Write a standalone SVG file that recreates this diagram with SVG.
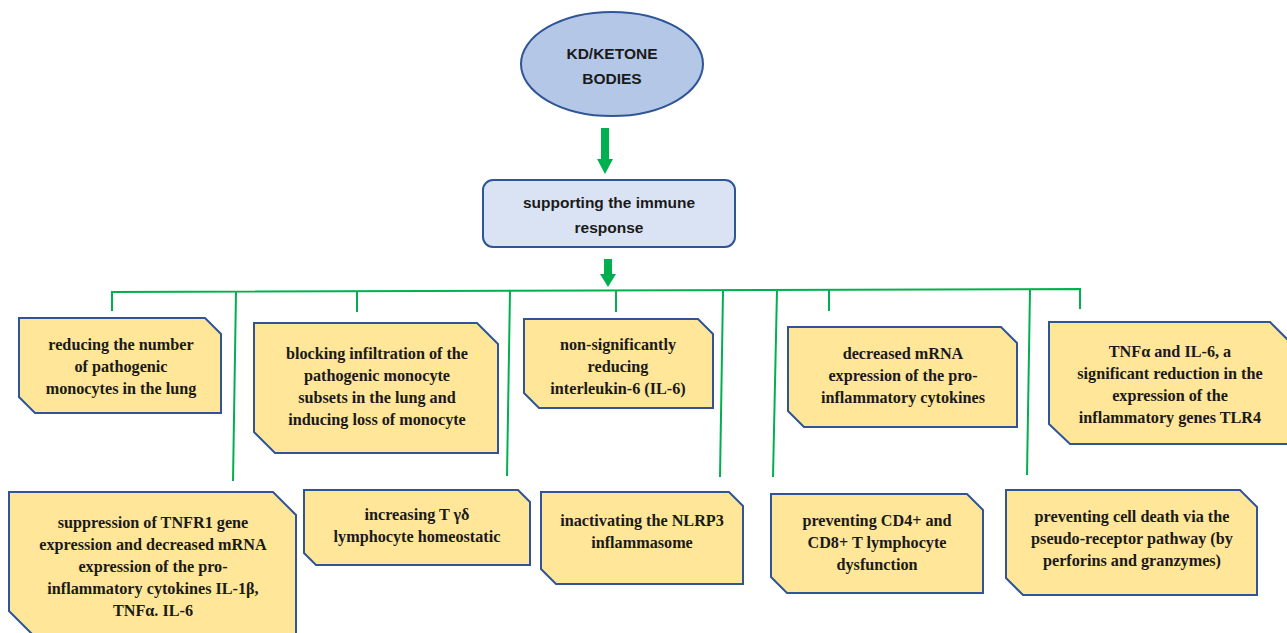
<svg xmlns="http://www.w3.org/2000/svg" width="1287" height="633" viewBox="0 0 1287 633">
<style>
.bx{fill:#ffe699;stroke:#2f5597;stroke-width:2}
.t{font-family:"Liberation Serif","Times New Roman",serif;font-weight:bold;font-size:16.2px;fill:#1a1a1a;text-anchor:middle;dominant-baseline:central}
.h{font-family:"Liberation Sans",Arial,sans-serif;font-weight:bold;font-size:15.5px;fill:#1a1a1a;text-anchor:middle;dominant-baseline:central}
.g{stroke:#00b050;stroke-width:2;fill:none}
.ga{fill:#00b050}
</style>
<rect width="1287" height="633" fill="#ffffff"/>
<g id="connectors">
<rect class="ga" x="601" y="128" width="8" height="32"/>
<polygon class="ga" points="597,159 613,159 605,174"/>
<rect class="ga" x="604" y="259" width="8" height="16"/>
<polygon class="ga" points="600,274 616,274 608,287"/>
<polyline class="g" points="112,311 112,292 1080,289 1080,309"/>
<line class="g" x1="357" y1="292" x2="357" y2="312"/>
<line class="g" x1="616" y1="291" x2="616" y2="312"/>
<line class="g" x1="829" y1="290" x2="829" y2="311"/>
<line class="g" x1="236" y1="292" x2="233" y2="481"/>
<line class="g" x1="510" y1="291" x2="507" y2="476"/>
<line class="g" x1="723" y1="291" x2="720" y2="477"/>
<line class="g" x1="777" y1="290" x2="773" y2="477"/>
<line class="g" x1="1030" y1="290" x2="1027" y2="475"/>
</g>
<g id="n0">
<ellipse cx="612" cy="64" rx="91" ry="52" fill="#b4c7e7" stroke="#2f5597" stroke-width="2"/>
<text class="h" x="612" y="53">KD/KETONE</text>
<text class="h" x="612" y="78">BODIES</text>
</g>
<g id="n1">
<rect x="483" y="180" width="252" height="67" rx="10" fill="#dae3f3" stroke="#2f5597" stroke-width="2"/>
<text class="h" x="609" y="202">supporting the immune</text>
<text class="h" x="609" y="227">response</text>
</g>
<g id="b1">
<polygon class="bx" points="19,318 205,318 221,334 221,413 35,413 19,397"/>
<text class="t" x="121" y="345">reducing the number</text>
<text class="t" x="121" y="367">of pathogenic</text>
<text class="t" x="121" y="389">monocytes in the lung</text>
</g>
<g id="b2">
<polygon class="bx" points="254,323 477,323 498,344 498,453 275,453 254,432"/>
<text class="t" x="377" y="354">blocking infiltration of the</text>
<text class="t" x="377" y="376">pathogenic monocyte</text>
<text class="t" x="377" y="398">subsets in the lung and</text>
<text class="t" x="377" y="420">inducing loss of monocyte</text>
</g>
<g id="b3">
<polygon class="bx" points="524,319 698,319 713,334 713,408 539,408 524,393"/>
<text class="t" x="618" y="345">non-significantly</text>
<text class="t" x="618" y="367">reducing</text>
<text class="t" x="618" y="389">interleukin-6 (IL-6)</text>
</g>
<g id="b4">
<polygon class="bx" points="788,327 1001,327 1017,343 1017,427 804,427 788,411"/>
<text class="t" x="903" y="354">decreased mRNA</text>
<text class="t" x="903" y="376">expression of the pro-</text>
<text class="t" x="903" y="398">inflammatory cytokines</text>
</g>
<g id="b5">
<polygon class="bx" points="1049,322 1270,322 1291,343 1291,444 1070,444 1049,424"/>
<text class="t" x="1170" y="352">TNFα and IL-6, a</text>
<text class="t" x="1170" y="374">significant reduction in the</text>
<text class="t" x="1170" y="396">expression of the</text>
<text class="t" x="1170" y="418">inflammatory genes TLR4</text>
</g>
<g id="b6">
<polygon class="bx" points="9,492 273,492 296,515 296,634 32,634 9,611"/>
<text class="t" x="153" y="523">suppression of TNFR1 gene</text>
<text class="t" x="153" y="545">expression and decreased mRNA</text>
<text class="t" x="153" y="567">expression of the pro-</text>
<text class="t" x="153" y="589">inflammatory cytokines IL-1β,</text>
<text class="t" x="153" y="611">TNFα. IL-6</text>
</g>
<g id="b7">
<polygon class="bx" points="304,490 518,490 530,502 530,565 316,565 304,553"/>
<text class="t" x="417" y="515">increasing T γδ</text>
<text class="t" x="417" y="537">lymphocyte homeostatic</text>
</g>
<g id="b8">
<polygon class="bx" points="541,492 729,492 743,506 743,584 556,584 541,569"/>
<text class="t" x="642" y="521">inactivating the NLRP3</text>
<text class="t" x="642" y="543">inflammasome</text>
</g>
<g id="b9">
<polygon class="bx" points="771,494 967,494 983,510 983,593 787,593 771,577"/>
<text class="t" x="877" y="521">preventing CD4+ and</text>
<text class="t" x="877" y="543">CD8+ T lymphocyte</text>
<text class="t" x="877" y="565">dysfunction</text>
</g>
<g id="b10">
<polygon class="bx" points="1006,490 1240,490 1257,507 1257,595 1023,595 1006,578"/>
<text class="t" x="1132" y="517">preventing cell death via the</text>
<text class="t" x="1132" y="539">pseudo-receptor pathway (by</text>
<text class="t" x="1132" y="561">perforins and granzymes)</text>
</g>
</svg>
